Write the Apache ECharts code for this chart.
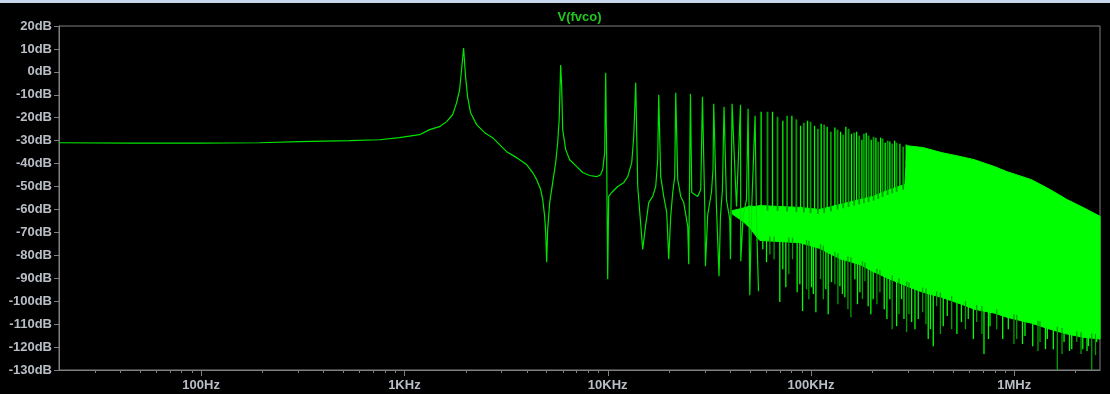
<!DOCTYPE html>
<html>
<head>
<meta charset="utf-8">
<script src="https://cdn.jsdelivr.net/npm/echarts@6.0.0/dist/echarts.min.js"></script>
<style>
  html, body { margin: 0; padding: 0; background: #000; }
  #chart { width: 1110px; height: 394px; }
</style>
</head>
<body>
<div id="chart"></div>
<script>
// ---- FFT of V(fvco): magnitude in dB versus frequency in Hz ----

// Main trace from 20 Hz up to where the spectrum turns into a dense band
const traceHz = [20, 44.4, 98, 194, 305, 537, 755, 946, 1187, 1330, 1489, 1613, 1726, 1806, 1869, 1911, 1955, 2000, 2046, 2116,
  2266, 2481, 2716, 2940, 3184, 3566, 3994, 4275, 4474, 4682, 4790, 4898, 4954, 5010, 5067, 5183, 5362, 5548, 5675, 5772,
  5871, 5938, 6006, 6214, 6501, 7039, 7534, 8154, 8830, 9240, 9450, 9667, 9777, 9888, 10000, 10115, 10464, 11200, 11990, 12547,
  13130, 13430, 13736, 14052, 14870, 15210, 15914, 16652, 17225, 17622, 17823, 18230, 18862, 19515, 19962, 20417, 20889, 21367, 21610, 22106,
  22870, 23660, 24760, 25040, 25530, 25910, 27730, 28690, 29250, 30020, 30260, 31050, 32380, 32970, 33230, 34270, 35290, 35860, 36680, 37350,
  38380, 39860, 40170, 40910, 43000, 45000, 45150, 46340, 48160, 49050, 50000, 50980, 53090, 53940, 55180];
const traceDb = [-30.9, -31.1, -31.1, -30.9, -30.4, -30.0, -29.6, -28.7, -27.4, -25.2, -23.9, -21.7, -18.7, -13.5, -7.8, 0.9, 10.4, -2.2, -10.9, -17.8,
  -23.0, -26.5, -28.7, -31.7, -34.8, -37.4, -40.4, -43.9, -47.0, -51.3, -55.7, -63.0, -70.0, -83.0, -68.7, -57.0, -48.3, -39.6, -30.9, -20.9,
  3.0, -6.5, -25.2, -33.9, -38.3, -41.3, -43.9, -45.2, -45.7, -44.8, -42.6, -35.2, -0.4, -38.3, -90.4, -54.3, -52.6, -50.0, -48.3, -45.7,
  -39.6, -28.3, -4.8, -50.0, -77.4, -70.0, -57.0, -54.3, -50.0, -38.3, -10.0, -45.7, -54.3, -61.3, -81.7, -63.0, -52.6, -45.7, -9.1, -47.0,
  -54.3, -57.0, -67.4, -83.9, -9.6, -52.6, -54.3, -51.3, -10.9, -58.7, -84.8, -62.2, -52.6, -42.6, -13.9, -58.7, -89.1, -63.0, -51.3, -15.2,
  -55.7, -64.3, -81.7, -13.9, -58.7, -14.3, -82.6, -63.0, -55.7, -16.1, -97.4, -61.3, -19.1, -64.3, -95.7];

// Dense high-frequency region: upper and lower edge of the solid band
const bandHz = [41000, 46000, 50000, 52910, 56010, 70250, 88130, 110500, 138700, 174000, 201600, 244300, 289700, 296400,
  355400, 438000, 549500, 636700, 798600, 920900, 1215000, 1499000, 1818000, 2179000, 2642000];
const bandTopDb = [-60.5, -59.5, -58.5, -58.7, -58.3, -58.7, -59.1, -60.0, -57.8, -55.7, -54.3, -51.3, -49.1, -32.2,
  -33.0, -35.2, -37.0, -38.3, -41.3, -43.5, -47.0, -51.3, -55.7, -59.1, -63.0];
const bandBottomDb = [-62.0, -65.0, -68.0, -70.9, -73.5, -74.0, -74.5, -77.0, -81.5, -84.0, -87.0, -90.4, -93.0, -93.5,
  -96.1, -98.3, -101.3, -103.5, -105.2, -107.0, -109.6, -112.2, -114.3, -115.7, -116.5];

// Harmonic peaks rising above the band
const peakHz = [56840, 61110, 64660, 68450, 72680, 76300, 80520, 84720, 88840, 92220, 96160, 99490,
  104100, 108100, 112200, 116100, 120100, 125200, 131100, 135100, 139800, 144000, 148400, 153000,
  158300, 163100, 167600, 172600, 178000, 182100, 186900, 192000, 197800, 203200, 208600, 214100,
  220000, 225000, 231700, 238100, 244300, 250800, 257800, 263700, 273700, 284100, 293900];
const peakDb = [-17.4, -17.4, -17.4, -19.6, -21.3, -19.1, -19.1, -20.7, -23.5, -22.2, -21.3, -21.7,
  -23.5, -24.8, -22.6, -23.0, -23.9, -26.1, -24.3, -25.2, -26.1, -27.4, -23.9, -24.8,
  -27.0, -26.5, -26.1, -27.8, -29.6, -27.0, -26.5, -27.8, -29.6, -28.3, -28.7, -30.4,
  -28.7, -29.1, -30.9, -30.0, -30.4, -31.3, -30.0, -30.9, -31.3, -32.6, -31.7];

// Deep notches dropping below the band
const dipHz = [60420, 65840, 70250, 75210, 81150, 85480, 90870, 95080, 100600, 105700, 111400, 121500,
  126200, 131100, 138700, 146700, 157100, 164400, 174000, 184200, 191100, 202300, 218300, 229200,
  244300, 250800, 263700, 279000, 295300, 312600, 337000, 354000, 377300, 399400, 415000, 447300,
  468000, 491900, 549500, 593700, 653000, 709500, 759400, 819300, 876700, 934600, 1028000, 1129000,
  1232000, 1338000, 1454000, 1556000, 1628000, 1757000, 1917000, 2029000, 2172000, 2315000, 2404000, 2544000];
const dipDb = [-83.0, -81.7, -100.4, -93.9, -81.7, -96.1, -104.3, -94.8, -93.9, -104.8, -90.4, -105.7,
  -91.7, -92.6, -93.5, -98.3, -107.0, -90.4, -96.1, -91.3, -102.2, -99.1, -96.1, -103.5,
  -99.1, -112.2, -110.9, -99.1, -113.5, -109.1, -107.8, -104.8, -116.5, -119.6, -102.2, -110.9,
  -106.5, -112.2, -109.1, -107.8, -109.1, -123.0, -110.9, -112.2, -116.5, -112.2, -116.5, -115.2,
  -119.6, -117.8, -116.5, -120.9, -130.0, -117.8, -120.9, -117.8, -120.9, -119.6, -130.0, -117.8];

// Shallower notches between the deep ones
const notchHz = [57940, 62750, 72680, 77800, 88130, 97590, 102700, 115000, 118300, 135600, 142700, 151900,
  169300, 179100, 197000, 210900, 236300, 270800, 286600, 303300, 324700, 367800, 386900, 433000,
  522100, 575100, 629400, 693000, 746100, 996200, 1097000, 1308000, 1424000, 1717000, 1869000, 2129000, 2279000, 2509000];
const notchDb = [-77.4, -79.6, -86.1, -88.3, -92.6, -99.1, -96.9, -99.1, -94.8, -101.3, -96.9, -103.5,
  -101.3, -99.1, -105.7, -101.3, -107.8, -105.7, -107.8, -105.7, -112.2, -110.0, -112.2, -114.3,
  -114.3, -112.2, -116.5, -114.3, -116.5, -118.7, -118.7, -121.7, -120.9, -123.0, -121.7, -123.0, -121.7, -123.5];

// Axes
const fMin = 20, fMax = 2.64e6;
const yMin = -130, yMax = 20, yStep = 10;
const xTickHz = [100, 1000, 10000, 100000, 1000000];
const xTickLabels = ['100Hz', '1KHz', '10KHz', '100KHz', '1MHz'];
const minorSteps = [2, 3, 4, 5, 6, 7, 8, 9];

const GRID = '#808080';
const LABEL = '#b9bec6';
const TRACE = '#00ff00';
const TRACE_DIM = '#00a000';
const FONT = '"Liberation Sans", Arial, sans-serif';

// Band edge value at a frequency, interpolated on log frequency
function bandEdgeAt(edge, f) {
  const lf = Math.log10(f);
  for (let i = 0; i < bandHz.length - 1; i++) {
    const a = Math.log10(bandHz[i]), b = Math.log10(bandHz[i + 1]);
    if (lf >= a && lf <= b) {
      const t = (lf - a) / (b - a);
      return edge[i] + (edge[i + 1] - edge[i]) * t;
    }
  }
  return lf < Math.log10(bandHz[0]) ? edge[0] : edge[edge.length - 1];
}

// Frequency axis ticks (majors at decades, minors at 2..9 per decade)
const tickData = [];
xTickHz.forEach(f => tickData.push([f, yMin, 1]));
for (let d = 1; d <= 6; d++) {
  minorSteps.forEach(m => {
    const f = m * Math.pow(10, d);
    if (f > fMin && f < fMax) tickData.push([f, yMin, 0]);
  });
}

const chart = echarts.init(document.getElementById('chart'), null, { renderer: 'canvas' });

const snap = v => Math.round(v) + 0.5;

// Vertical strokes hanging below the band down to a notch value
function notchSeries(name, hz, db, dimEvery) {
  return {
    type: 'custom', name, silent: true,
    data: hz.map((f, i) => [f, db[i], i]),
    renderItem: (params, api) => {
      const f = api.value(0);
      const bot = api.coord([f, api.value(1)]);
      const top = api.coord([f, bandEdgeAt(bandBottomDb, f) + 2]);
      const dim = api.value(2) % dimEvery === 1;
      return { type: 'line', shape: { x1: bot[0], y1: top[1], x2: bot[0], y2: bot[1] },
        style: { stroke: dim ? TRACE_DIM : TRACE, lineWidth: 1.3 } };
    }
  };
}

chart.setOption({
  animation: false,
  backgroundColor: '#000',
  grid: { left: 59, top: 26, width: 1041, height: 344, show: true, borderColor: GRID, borderWidth: 1, backgroundColor: 'transparent' },
  graphic: [
    { type: 'rect', left: 0, top: 0, shape: { width: 1110, height: 3 }, style: { fill: '#c9d8ec' }, silent: true },
    {
      type: 'text', x: 579.5, y: 17,
      style: { text: 'V(fvco)', fill: '#1ec81e', font: 'bold 13px ' + FONT, textAlign: 'center', textVerticalAlign: 'middle' },
      silent: true
    }
  ],
  xAxis: {
    type: 'log', logBase: 10, min: fMin, max: fMax,
    axisLine: { show: true, onZero: false, lineStyle: { color: GRID, width: 1 } },
    axisTick: { show: false },
    splitLine: { show: false },
    minorTick: { show: false },
    axisLabel: {
      color: LABEL, fontSize: 13, fontWeight: 'bold', fontFamily: FONT, margin: 9,
      formatter: v => {
        const i = xTickHz.findIndex(t => Math.abs(Math.log10(t) - Math.log10(v)) < 1e-6);
        return i >= 0 ? xTickLabels[i] : '';
      }
    }
  },
  yAxis: {
    type: 'value', min: yMin, max: yMax, interval: yStep,
    axisLine: { show: true, lineStyle: { color: GRID, width: 1 } },
    axisTick: { show: true, length: 5, lineStyle: { color: GRID } },
    splitLine: { show: false },
    axisLabel: { color: LABEL, fontSize: 13, fontWeight: 'bold', fontFamily: FONT, margin: 7, formatter: v => v + 'dB' }
  },
  series: [
    {
      // solid band of the dense spectrum
      type: 'custom', name: 'band', silent: true,
      data: [[bandHz[0], bandTopDb[0]]],
      renderItem: (params, api) => {
        const pts = [];
        for (let i = 0; i < bandHz.length; i++) pts.push(api.coord([bandHz[i], bandTopDb[i]]));
        for (let i = bandHz.length - 1; i >= 0; i--) pts.push(api.coord([bandHz[i], bandBottomDb[i]]));
        return { type: 'polygon', shape: { points: pts }, style: { fill: TRACE, stroke: TRACE, lineWidth: 1 } };
      }
    },
    {
      // peaks above the band
      type: 'custom', name: 'peaks', silent: true,
      data: peakHz.map((f, i) => [f, peakDb[i], i]),
      renderItem: (params, api) => {
        const f = api.value(0);
        const top = api.coord([f, api.value(1)]);
        const bot = api.coord([f, bandEdgeAt(bandTopDb, f) - 2]);
        const dim = api.value(2) % 2 === 1;
        return { type: 'line', shape: { x1: top[0], y1: top[1], x2: top[0], y2: bot[1] },
          style: { stroke: dim ? TRACE_DIM : TRACE, lineWidth: dim ? 1.8 : 1.3 } };
      }
    },
    notchSeries('notches', notchHz, notchDb, 2),
    notchSeries('dips', dipHz, dipDb, 3),
    {
      type: 'line', name: 'V(fvco)', silent: true,
      data: traceHz.map((f, i) => [f, traceDb[i]]),
      showSymbol: false, symbol: 'none',
      lineStyle: { color: '#00e400', width: 1.2 },
      z: 3
    },
    {
      // frequency axis ticks
      type: 'custom', name: 'ticks', silent: true, clip: false,
      data: tickData,
      renderItem: (params, api) => {
        const p = api.coord([api.value(0), yMin]);
        const len = api.value(2) ? 6 : 3;
        const x = snap(p[0]);
        return { type: 'line', shape: { x1: x, y1: p[1], x2: x, y2: p[1] + len }, style: { stroke: GRID, lineWidth: 1 } };
      }
    }
  ]
});
</script>
</body>
</html>
